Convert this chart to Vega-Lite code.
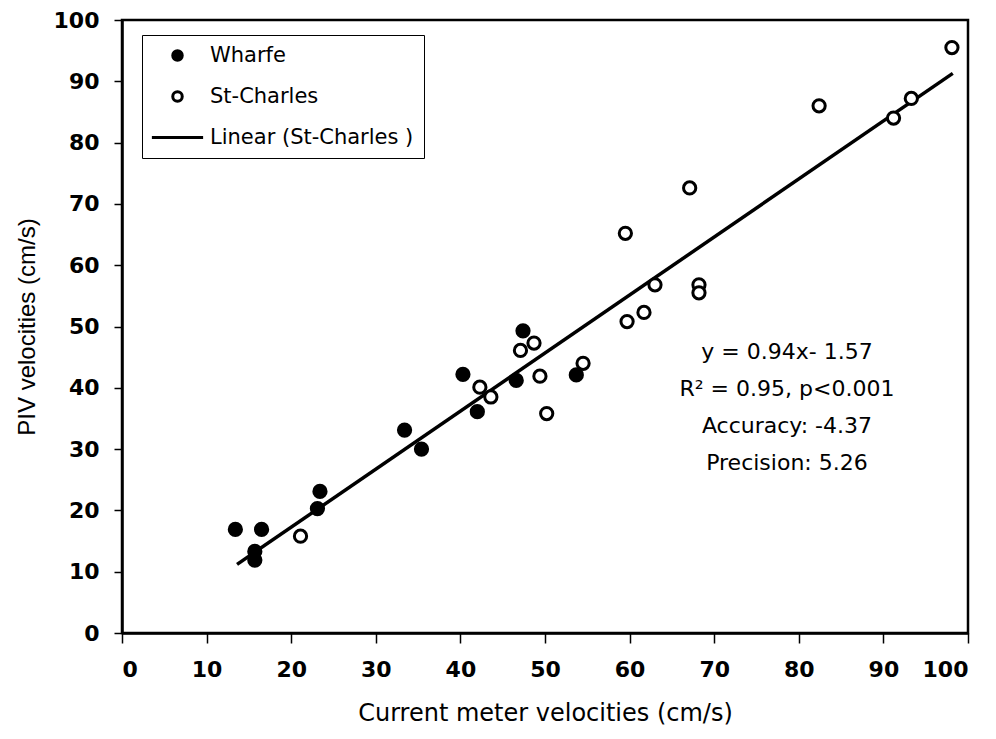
{
  "$schema": "https://vega.github.io/schema/vega-lite/v6.json",
  "width": 846,
  "height": 613,
  "autosize": {"type": "none"},
  "padding": {"left": 122, "top": 20, "right": 28, "bottom": 106},
  "background": "white",
  "config": {
    "view": {"stroke": "black", "strokeWidth": 2.5},
    "font": "DejaVu Sans",
    "axis": {
      "grid": false,
      "domainColor": "black",
      "domainWidth": 2.5,
      "tickColor": "black",
      "tickWidth": 1.5,
      "labelColor": "black",
      "titleColor": "black",
      "labelFont": "DejaVu Sans",
      "labelFontSize": 22,
      "labelFontWeight": "bold",
      "titleFontWeight": "normal"
    }
  },
  "layer": [
    {
      "data": {"values": [
        {"x": 13.6, "y": 11.2},
        {"x": 98.2, "y": 91.3}
      ]},
      "mark": {"type": "line", "color": "black", "strokeWidth": 3.5},
      "encoding": {
        "x": {"field": "x", "type": "quantitative"},
        "y": {"field": "y", "type": "quantitative"}
      }
    },
    {
      "data": {"values": [
        {"site": "Wharfe", "current": 13.4, "piv": 16.9},
        {"site": "Wharfe", "current": 16.5, "piv": 16.9},
        {"site": "Wharfe", "current": 15.7, "piv": 13.3},
        {"site": "Wharfe", "current": 15.7, "piv": 11.9},
        {"site": "Wharfe", "current": 23.1, "piv": 20.3},
        {"site": "Wharfe", "current": 23.4, "piv": 23.1},
        {"site": "Wharfe", "current": 33.4, "piv": 33.1},
        {"site": "Wharfe", "current": 35.4, "piv": 30.0},
        {"site": "Wharfe", "current": 40.3, "piv": 42.2},
        {"site": "Wharfe", "current": 42.0, "piv": 36.1},
        {"site": "Wharfe", "current": 46.6, "piv": 41.2},
        {"site": "Wharfe", "current": 47.4, "piv": 49.3},
        {"site": "Wharfe", "current": 53.7, "piv": 42.1},
        {"site": "St-Charles", "current": 21.1, "piv": 15.8},
        {"site": "St-Charles", "current": 42.3, "piv": 40.1},
        {"site": "St-Charles", "current": 43.6, "piv": 38.5},
        {"site": "St-Charles", "current": 47.1, "piv": 46.1},
        {"site": "St-Charles", "current": 48.7, "piv": 47.3},
        {"site": "St-Charles", "current": 49.4, "piv": 41.9},
        {"site": "St-Charles", "current": 50.2, "piv": 35.8},
        {"site": "St-Charles", "current": 54.5, "piv": 44.0},
        {"site": "St-Charles", "current": 59.5, "piv": 65.2},
        {"site": "St-Charles", "current": 59.7, "piv": 50.8},
        {"site": "St-Charles", "current": 61.7, "piv": 52.3},
        {"site": "St-Charles", "current": 63.0, "piv": 56.8},
        {"site": "St-Charles", "current": 67.1, "piv": 72.6},
        {"site": "St-Charles", "current": 68.2, "piv": 56.8},
        {"site": "St-Charles", "current": 68.2, "piv": 55.5},
        {"site": "St-Charles", "current": 82.4, "piv": 86.0},
        {"site": "St-Charles", "current": 91.2, "piv": 84.0},
        {"site": "St-Charles", "current": 93.3, "piv": 87.2},
        {"site": "St-Charles", "current": 98.1, "piv": 95.5}
      ]},
      "mark": {"type": "point", "filled": false, "size": 150, "stroke": "black", "strokeWidth": 3, "opacity": 1},
      "encoding": {
        "x": {
          "field": "current", "type": "quantitative",
          "scale": {"domain": [0, 100], "nice": false},
          "axis": {"values": [0,10,20,30,40,50,60,70,80,90,100], "tickSize": 10, "labelPadding": 16, "title": "Current meter velocities (cm/s)", "titleFont": "DejaVu Sans", "titleFontSize": 24, "titlePadding": 21}
        },
        "y": {
          "field": "piv", "type": "quantitative",
          "scale": {"domain": [0, 100], "nice": false},
          "axis": {"values": [0,10,20,30,40,50,60,70,80,90,100], "tickSize": 8, "labelPadding": 15, "title": "PIV velocities (cm/s)", "titleFont": "Liberation Sans", "titleFontSize": 24, "titlePadding": 14}
        },
        "fill": {
          "field": "site", "type": "nominal",
          "scale": {"domain": ["Wharfe", "St-Charles", "Linear (St-Charles )"], "range": ["black", "white", "black"]},
          "legend": {
            "title": null,
            "orient": "none",
            "legendX": 20,
            "legendY": 15,
            "padding": 10,
            "strokeColor": "black",
            "fillColor": "white",
            "labelFont": "DejaVu Sans",
            "labelFontSize": 21,
            "labelColor": "black",
            "labelLimit": 500,
            "labelOffset": 22,
            "rowPadding": 18,
            "symbolSize": 90,
            "symbolOffset": 15,
            "symbolStrokeColor": "black",
            "symbolStrokeWidth": 3
          }
        },
        "shape": {
          "field": "site", "type": "nominal",
          "scale": {"domain": ["Wharfe", "St-Charles", "Linear (St-Charles )"], "range": ["circle", "circle", "M-5.4,0H5.4"]},
          "legend": {"title": null}
        }
      }
    },
    {
      "data": {"values": [{"lbl": "stats"}]},
      "mark": {
        "type": "text",
        "text": ["y = 0.94x- 1.57", "R² = 0.95, p<0.001", "Accuracy: -4.37", "Precision: 5.26"],
        "font": "DejaVu Sans",
        "fontSize": 22,
        "lineHeight": 37,
        "align": "center",
        "baseline": "middle",
        "color": "black"
      },
      "encoding": {
        "x": {"datum": 78.6, "type": "quantitative"},
        "y": {"datum": 45.8, "type": "quantitative"}
      }
    }
  ]
}
